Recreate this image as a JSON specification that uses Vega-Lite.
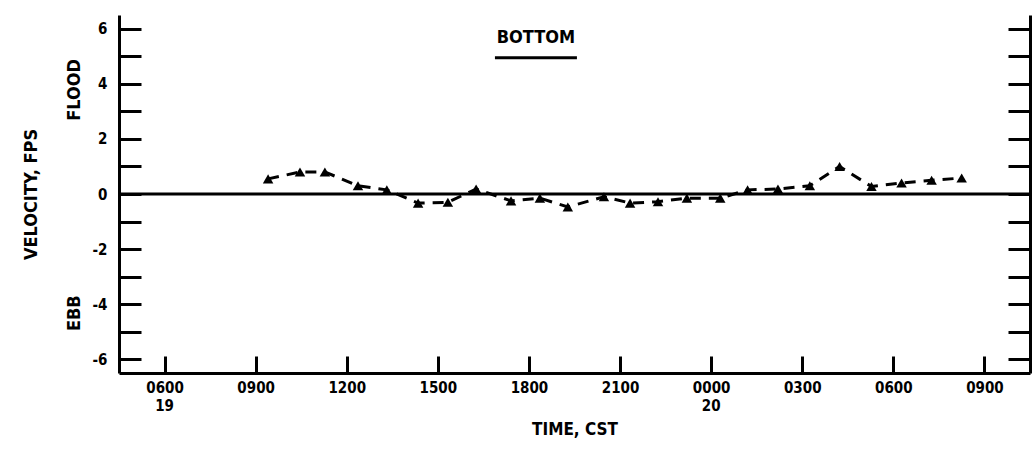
{
  "$schema": "https://vega.github.io/schema/vega-lite/v6.json",
  "width": 911,
  "height": 358,
  "autosize": {"type": "none"},
  "padding": {"left": 119, "top": 15, "right": 3, "bottom": 82},
  "background": "white",
  "config": {
    "view": {"stroke": null},
    "font": "DejaVu Sans Condensed",
    "axis": {
      "domainColor": "black",
      "domainWidth": 3,
      "tickColor": "black",
      "tickWidth": 3,
      "grid": false,
      "labelColor": "black",
      "labelFont": "DejaVu Sans Condensed",
      "labelFontWeight": "bold",
      "labelFontSize": 15,
      "titleColor": "black",
      "titleFont": "DejaVu Sans Condensed",
      "titleFontWeight": "bold",
      "titleFontSize": 17
    }
  },
  "resolve": {"axis": {"y": "independent"}},
  "layer": [
    {
      "data": {
        "values": [
          {"hour": 9.41, "velocity": 0.55},
          {"hour": 10.46, "velocity": 0.8},
          {"hour": 11.28, "velocity": 0.8},
          {"hour": 12.37, "velocity": 0.3},
          {"hour": 13.32, "velocity": 0.15},
          {"hour": 14.35, "velocity": -0.33},
          {"hour": 15.33, "velocity": -0.3},
          {"hour": 16.26, "velocity": 0.18},
          {"hour": 17.41, "velocity": -0.25},
          {"hour": 18.36, "velocity": -0.15},
          {"hour": 19.28, "velocity": -0.47},
          {"hour": 20.47, "velocity": -0.1},
          {"hour": 21.33, "velocity": -0.33},
          {"hour": 22.25, "velocity": -0.28},
          {"hour": 23.2, "velocity": -0.15},
          {"hour": 24.3, "velocity": -0.15},
          {"hour": 25.2, "velocity": 0.15},
          {"hour": 26.2, "velocity": 0.18},
          {"hour": 27.25, "velocity": 0.3},
          {"hour": 28.23, "velocity": 1.0},
          {"hour": 29.28, "velocity": 0.27},
          {"hour": 30.27, "velocity": 0.4},
          {"hour": 31.26, "velocity": 0.5},
          {"hour": 32.25, "velocity": 0.58}
        ]
      },
      "mark": {
        "type": "line",
        "color": "black",
        "strokeWidth": 3,
        "strokeDash": [11, 8],
        "point": {"shape": "triangle-up", "size": 110, "filled": true, "color": "black", "opacity": 1}
      },
      "encoding": {
        "x": {
          "field": "hour",
          "type": "quantitative",
          "scale": {"domain": [4.5, 34.5], "nice": false, "zero": false},
          "axis": {
            "orient": "bottom",
            "title": "TIME, CST",
            "titlePadding": 26,
            "values": [6, 9, 12, 15, 18, 21, 24, 27, 30, 33],
            "tickSize": -17,
            "labelPadding": 24,
            "labelFlush": false,
            "labelExpr": "((datum.value % 24) < 10 ? '0' : '') + (datum.value % 24) + '00'"
          }
        },
        "y": {
          "field": "velocity",
          "type": "quantitative",
          "scale": {"domain": [-6.5, 6.5], "nice": false, "zero": false},
          "axis": {
            "orient": "left",
            "title": "VELOCITY, FPS",
            "titleFontSize": 18,
            "titlePadding": 52,
            "values": [-6, -5, -4, -3, -2, -1, 0, 1, 2, 3, 4, 5, 6],
            "tickSize": -22,
            "labelPadding": 34,
            "labelExpr": "datum.value % 2 == 0 ? '' + datum.value : ''"
          }
        }
      }
    },
    {
      "data": {"values": [{}]},
      "mark": {"type": "rule", "color": "black", "strokeWidth": 3},
      "encoding": {
        "y": {
          "datum": 0,
          "type": "quantitative",
          "axis": {
            "orient": "right",
            "title": null,
            "values": [-6, -5, -4, -3, -2, -1, 0, 1, 2, 3, 4, 5, 6],
            "tickSize": -22,
            "labels": false
          }
        }
      }
    },
    {
      "data": {"values": [{}]},
      "mark": {"type": "text", "fontSize": 15, "fontWeight": "bold", "font": "DejaVu Sans Condensed", "color": "black", "align": "center", "baseline": "middle", "dy": 33},
      "encoding": {
        "x": {"datum": 6, "type": "quantitative"},
        "y": {"datum": -6.5, "type": "quantitative", "axis": null},
        "text": {"value": "19"}
      }
    },
    {
      "data": {"values": [{}]},
      "mark": {"type": "text", "fontSize": 15, "fontWeight": "bold", "font": "DejaVu Sans Condensed", "color": "black", "align": "center", "baseline": "middle", "dy": 33},
      "encoding": {
        "x": {"datum": 24, "type": "quantitative"},
        "y": {"datum": -6.5, "type": "quantitative", "axis": null},
        "text": {"value": "20"}
      }
    },
    {
      "data": {"values": [{}]},
      "mark": {"type": "text", "angle": 270, "fontSize": 18, "fontWeight": "bold", "font": "DejaVu Sans Condensed", "color": "black", "align": "center", "baseline": "middle", "dy": -44},
      "encoding": {
        "x": {"datum": 4.5, "type": "quantitative"},
        "y": {"datum": 3.78, "type": "quantitative", "axis": null},
        "text": {"value": "FLOOD"}
      }
    },
    {
      "data": {"values": [{}]},
      "mark": {"type": "text", "angle": 270, "fontSize": 18, "fontWeight": "bold", "font": "DejaVu Sans Condensed", "color": "black", "align": "center", "baseline": "middle", "dy": -44},
      "encoding": {
        "x": {"datum": 4.5, "type": "quantitative"},
        "y": {"datum": -4.33, "type": "quantitative", "axis": null},
        "text": {"value": "EBB"}
      }
    },
    {
      "data": {"values": [{}]},
      "mark": {"type": "text", "fontSize": 18, "fontWeight": "bold", "font": "DejaVu Sans Condensed", "color": "black", "align": "center", "baseline": "middle"},
      "encoding": {
        "x": {"datum": 18.23, "type": "quantitative"},
        "y": {"datum": 5.67, "type": "quantitative", "axis": null},
        "text": {"value": "BOTTOM"}
      }
    },
    {
      "data": {"values": [{}]},
      "mark": {"type": "rule", "color": "black", "strokeWidth": 3},
      "encoding": {
        "x": {"datum": 16.88, "type": "quantitative"},
        "x2": {"datum": 19.58},
        "y": {"datum": 4.95, "type": "quantitative", "axis": null}
      }
    }
  ]
}
